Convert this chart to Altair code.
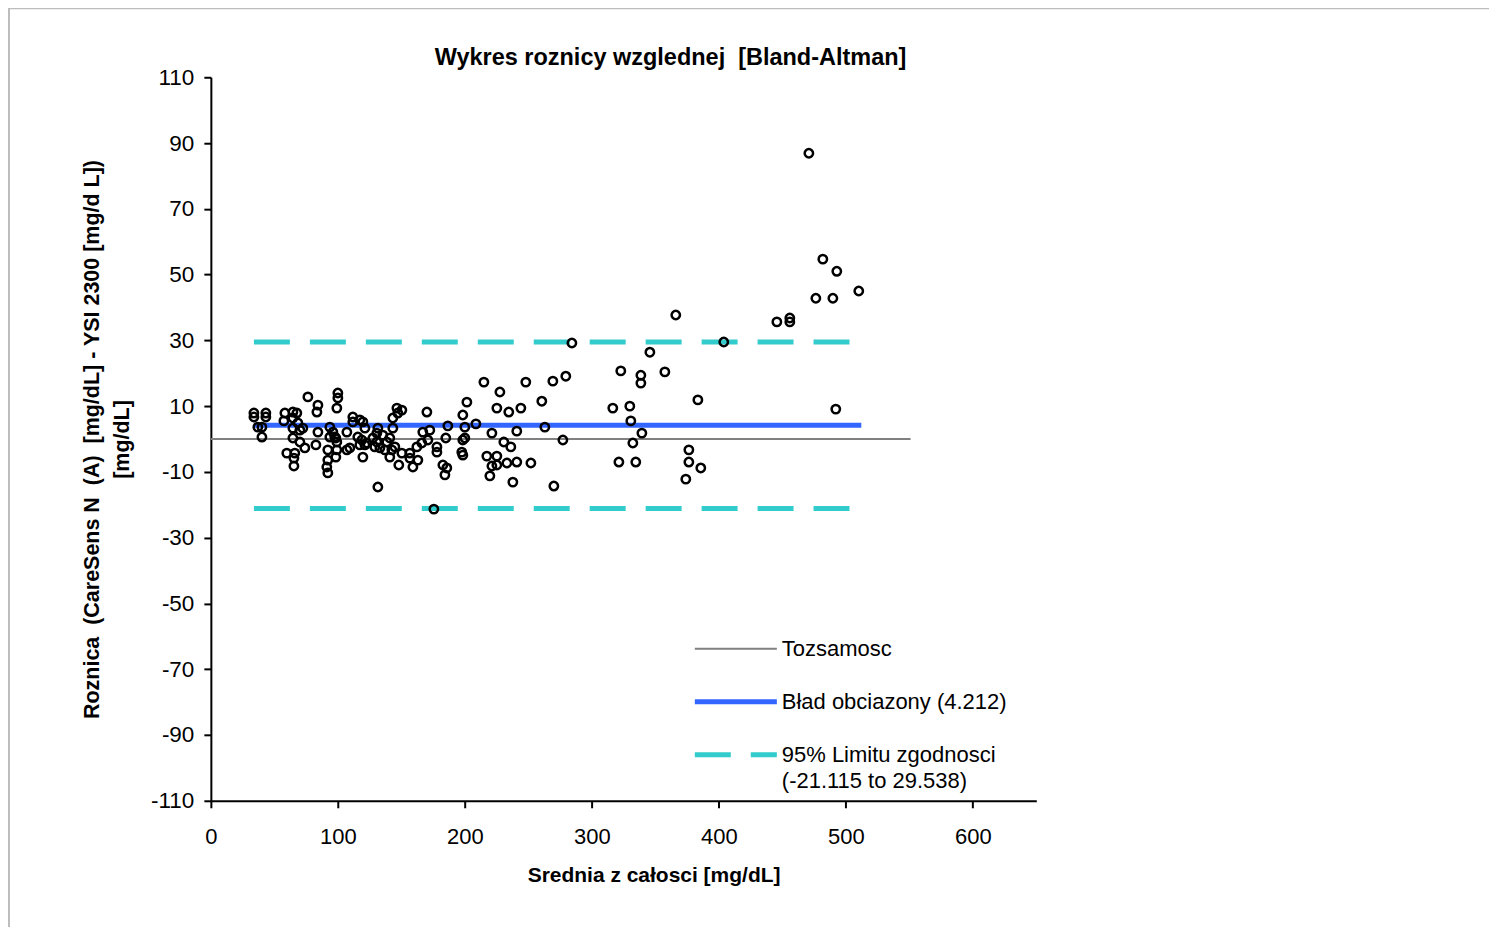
import pandas as pd
import altair as alt

# Srednia (x) and roznica (y)
mean_vals = [
    33.9, 33.9, 43.3, 43.3, 40.2, 37.0, 40.2,
    58.3, 57.5, 64.6, 67.7, 64.6, 68.5, 64.6, 70.1, 72.4, 64.6, 70.1, 74.0, 59.8, 66.1, 65.4, 65.4,
    76.4, 84.3, 83.5, 82.7, 84.3,
    100.0, 100.0, 99.2, 93.7, 96.1, 97.6, 93.7, 98.4, 99.2, 92.1, 92.1, 91.3, 92.1, 98.4, 99.2,
    107.1, 107.1, 111.8, 111.8, 117.3, 119.7, 121.3, 115.7, 118.9, 117.3, 121.3, 122.8, 109.4, 119.7,
    146.5, 150.4, 147.2, 143.3, 143.3, 131.5, 130.7, 127.6, 130.7, 135.4, 129.1, 133.1, 138.6, 140.9,
    144.9, 142.5, 140.9, 137.0, 131.5, 148.0, 150.4, 156.7, 163.0, 159.1, 156.7,
    170.1, 166.9, 172.4, 162.2, 166.1, 170.9, 178.0, 178.0, 182.7, 185.8, 184.3, 185.0, 186.6,
    198.4, 200.0, 198.4, 200.0, 197.6, 198.4, 201.6, 175.6,
    215.0, 227.6, 248.0, 269.3, 279.5, 284.3, 260.6, 208.7, 225.2, 234.6, 244.1, 221.3, 230.7, 236.2,
    217.3, 225.2, 221.3, 225.2, 219.7, 233.1, 240.9, 252.0, 237.8, 240.9, 263.0, 277.2, 270.1,
    470.9, 481.9, 492.9, 476.4, 489.8, 510.2, 445.7, 455.9, 455.9, 366.1, 403.9, 345.7,
    322.8, 338.6, 338.6, 357.5, 383.5, 492.1, 316.5, 329.9, 330.7, 339.4, 332.3, 321.3, 334.6,
    376.4, 376.4, 385.8, 374.0,
]
diff_vals = [
    7.9, 6.7, 7.9, 6.7, 3.6, 3.6, 0.6,
    7.9, 5.5, 8.2, 7.9, 6.4, 4.9, 3.3, 2.7, 3.3, 0.3, -0.9, -2.7, -4.3, -4.3, -5.8, -8.2,
    12.8, 10.3, 8.2, -1.8, 2.1,
    14.0, 12.5, 9.4, 3.6, 2.1, 0.6, 0.6, 0.3, -0.9, -3.3, -6.4, -8.5, -10.3, -5.5, -3.3,
    2.1, -3.3, 6.7, 5.2, 5.8, 5.2, 3.3, 0.6, -0.3, -1.8, -1.8, -1.2, -2.7, -5.5,
    9.4, 8.8, 7.9, 6.4, 3.3, 3.3, 1.8, 0.3, -0.9, 1.2, -2.4, -2.7, -0.9, 0.3,
    -2.4, -3.3, -5.5, -3.3, -14.6, -7.9, -4.3, -4.3, -6.4, -8.5, -5.8,
    8.2, 2.1, 2.7, -2.4, -1.2, -0.3, -2.4, -4.0, -7.9, -8.8, -10.9, 0.3, 4.0,
    7.3, 3.6, -0.3, 0.3, -4.0, -4.9, 11.2, -21.3,
    17.3, 14.3, 17.3, 17.6, 19.1, 29.2, 11.5, 4.6, 9.4, 8.2, 9.4, 1.8, -0.9, -2.4,
    -5.2, -5.2, -8.2, -7.9, -11.2, -7.3, -7.0, -7.3, -13.1, 2.4, 3.6, -0.3, -14.3,
    86.9, 54.7, 51.0, 42.8, 42.8, 45.0, 35.6, 36.8, 35.6, 37.7, 29.5, 26.4,
    20.7, 19.4, 17.0, 20.4, 11.9, 9.1, 9.4, 10.0, 5.5, 1.8, -1.2, -7.0, -7.0,
    -3.3, -7.0, -8.8, -12.2,
]

bias = 4.212
loa_low = -21.115
loa_high = 29.538
x_ticks = [0, 100, 200, 300, 400, 500, 600]
y_ticks = [-110, -90, -70, -50, -30, -10, 10, 30, 50, 70, 90, 110]

pts = pd.DataFrame({"x": mean_vals, "y": diff_vals})
x_lo, x_hi = min(mean_vals), max(mean_vals)

FONT = "Liberation Sans"
SP2 = "\u00a0 "  # keep the double spaces of the original texts
xs = alt.Scale(domain=[0, 650], nice=False, zero=False)
ys = alt.Scale(domain=[-110, 110], nice=False, zero=False)

x_axis = alt.Axis(values=x_ticks, labelExpr="'' + datum.value", title="Srednia z całosci [mg/dL]",
                  labelFontSize=22, labelPadding=19, labelFlush=False,
                  titleFontSize=21, titleFontWeight="bold",
                  titleX=443, titleY=81, titleBaseline="alphabetic")
y_axis = alt.Axis(values=y_ticks, labelExpr="'' + datum.value",
                  title=[f"Roznica{SP2}(CareSens N{SP2}(A){SP2}[mg/dL] - YSI 2300 [mg/d L])", "[mg/dL]"],
                  labelFontSize=22.5, labelPadding=10, labelFlush=False,
                  titleFontSize=21.5, titleFontWeight="bold",
                  titleAngle=-90, titleX=-129, titleY=362, titleBaseline="top", titleAlign="center",
                  titleLineHeight=30)

# outer frame of the chart area
frame = alt.Chart(pd.DataFrame({"k": [0]})).mark_rect(
    filled=False, stroke="#bdbdbd", strokeWidth=2
).encode(x=alt.value(-202), x2=alt.value(1280), y=alt.value(-69), y2=alt.value(900))

# chart title, placed above the plot area
title = alt.Chart(pd.DataFrame({"t": [f"Wykres roznicy wzglednej{SP2}[Bland-Altman]"]})).mark_text(
    align="center", baseline="alphabetic", fontSize=23.5, fontWeight="bold", font=FONT, color="black"
).encode(x=alt.value(460), y=alt.value(-12), text="t:N")

# identity line (y = 0)
ident = alt.Chart(pd.DataFrame({"x": [0], "x2": [551], "y": [0]})).mark_rule(
    color="#808080", strokeWidth=2
).encode(x=alt.X("x:Q", scale=xs, axis=x_axis), x2="x2:Q",
         y=alt.Y("y:Q", scale=ys, axis=y_axis))

bias_line = alt.Chart(pd.DataFrame({"x": [x_lo], "x2": [x_hi + 2], "y": [bias]})).mark_rule(
    color="#3366FF", strokeWidth=5
).encode(x=alt.X("x:Q", scale=xs), x2="x2:Q", y=alt.Y("y:Q", scale=ys))

loa_lines = alt.Chart(pd.DataFrame({"x": [x_lo, x_lo], "x2": [x_hi + 2, x_hi + 2],
                                    "y": [loa_low, loa_high]})).mark_rule(
    color="#33CCCC", strokeWidth=5, strokeDash=[36, 20]
).encode(x=alt.X("x:Q", scale=xs), x2="x2:Q", y=alt.Y("y:Q", scale=ys))

points = alt.Chart(pts).mark_point(
    shape="circle", filled=False, color="black", strokeWidth=2.5, size=70, opacity=1
).encode(x=alt.X("x:Q", scale=xs), y=alt.Y("y:Q", scale=ys))

# legend drawn inside the plot (data coordinates)
leg_lines = pd.DataFrame({
    "x": [381.1, 381.1, 381.1], "x2": [445.7, 445.7, 445.7],
    "y": [-63.8, -79.9, -96.0], "k": ["ident", "bias", "loa"],
})
leg_ident = alt.Chart(leg_lines[leg_lines.k == "ident"]).mark_rule(
    color="#808080", strokeWidth=2
).encode(x=alt.X("x:Q", scale=xs), x2="x2:Q", y=alt.Y("y:Q", scale=ys))
leg_bias = alt.Chart(leg_lines[leg_lines.k == "bias"]).mark_rule(
    color="#3366FF", strokeWidth=5
).encode(x=alt.X("x:Q", scale=xs), x2="x2:Q", y=alt.Y("y:Q", scale=ys))
leg_loa = alt.Chart(leg_lines[leg_lines.k == "loa"]).mark_rule(
    color="#33CCCC", strokeWidth=5, strokeDash=[36, 20]
).encode(x=alt.X("x:Q", scale=xs), x2="x2:Q", y=alt.Y("y:Q", scale=ys))

leg_text = pd.DataFrame({
    "x": [449.6] * 4,
    "y": [-63.8, -79.9, -96.0, -103.9],
    "t": ["Tozsamosc", f"Bład obciazony ({bias:.3f})", "95% Limitu zgodnosci",
          f"({loa_low:.3f} to {loa_high:.3f})"],
})
leg_labels = alt.Chart(leg_text).mark_text(
    align="left", baseline="middle", fontSize=22, font=FONT, color="black"
).encode(x=alt.X("x:Q", scale=xs), y=alt.Y("y:Q", scale=ys), text="t:N")

chart = alt.layer(
    frame, title, ident, loa_lines, bias_line, points, leg_ident, leg_bias, leg_loa, leg_labels
).properties(
    width=826, height=724,
    background="white",
    autosize=alt.AutoSizeParams(type="none"),
    padding={"left": 203, "top": 69, "right": 453, "bottom": 126},
).configure_view(
    stroke=None
).configure_axis(
    grid=False, domainColor="black", domainWidth=2, tickColor="black", tickWidth=2,
    tickSize=7, labelColor="black", titleColor="black", labelFont=FONT, titleFont=FONT,
)

chart.save("out.html", embed_options={"renderer": "svg", "actions": False})
